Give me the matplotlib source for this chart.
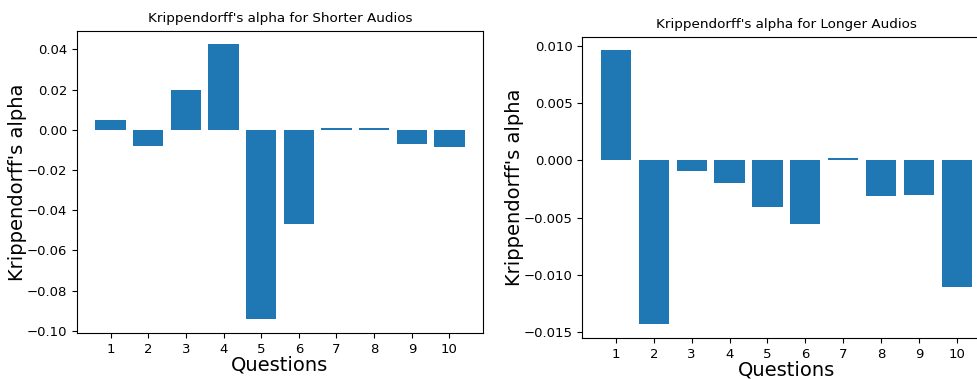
import matplotlib
matplotlib.use("Agg")
import matplotlib.pyplot as plt

questions = list(range(1, 11))

# Krippendorff's alpha per question
alpha_short = [0.0050, -0.0080, 0.0199, 0.0424, -0.0942,
               -0.0467, 0.0011, 0.0011, -0.0073, -0.0088]
alpha_long = [0.00959, -0.01432, -0.00093, -0.00195, -0.00406,
              -0.00557, 0.00023, -0.00316, -0.00307, -0.0111]

W, H = 978, 379
fig = plt.figure(figsize=(W / 100, H / 100), dpi=100)


def axes_px(left, top, right, bottom):
    return fig.add_axes([left / W, 1 - bottom / H, (right - left) / W, (bottom - top) / H])


ax1 = axes_px(77, 30.7, 483, 333)
ax2 = axes_px(582.3, 36.7, 990.4, 338)

for ax, vals, name in [(ax1, alpha_short, "Shorter"), (ax2, alpha_long, "Longer")]:
    ax.bar(questions, vals, color="#1f77b4")
    ax.set_xticks(questions)
    ax.set_title(f"Krippendorff's alpha for {name} Audios", fontsize=9.7)
    ax.set_ylabel("Krippendorff's alpha", fontsize=14, labelpad=0)
    ax.set_xlabel("Questions", fontsize=14, labelpad=0)
    ax.tick_params(labelsize=9.5)

fig.savefig("out.png", dpi=100)
